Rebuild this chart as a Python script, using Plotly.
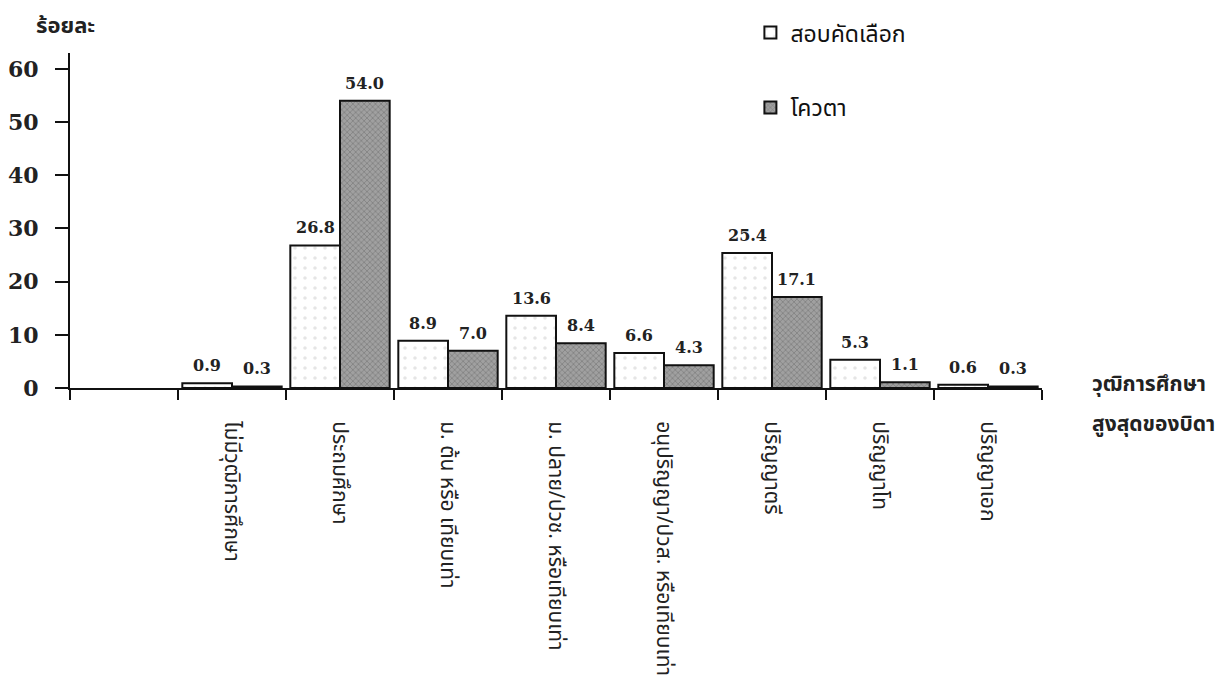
import plotly.graph_objects as go

categories = [
    "ไม่มีวุฒิการศึกษา",
    "ประถมศึกษา",
    "ม. ต้น หรือ เทียบเท่า",
    "ม. ปลาย/ปวช. หรือเทียบเท่า",
    "อนุปริญญา/ปวส. หรือเทียบเท่า",
    "ปริญญาตรี",
    "ปริญญาโท",
    "ปริญญาเอก",
]
exam_values = [0.9, 26.8, 8.9, 13.6, 6.6, 25.4, 5.3, 0.6]
quota_values = [0.3, 54.0, 7.0, 8.4, 4.3, 17.1, 1.1, 0.3]
series_names = ["สอบคัดเลือก", "โควตา"]
y_ticks = [0, 10, 20, 30, 40, 50, 60]
empty_slot = " "

thai_font = "Noto Sans Thai, Noto Sans, DejaVu Sans, sans-serif"
num_font = "DejaVu Serif, Liberation Serif, serif"

W, H = 1220, 676          # page body adds 8px offset; keep figure inside viewport
ML, MT = 62, 45
PLOT_W, PLOT_H = 972, 335
BARGAP = 0.08
n_slots = len(categories) + 1
half_bar = PLOT_W / n_slots * (1 - BARGAP) / 4

fig = go.Figure()
fig.add_trace(go.Bar(
    x=categories, y=exam_values, name=series_names[0],
    legendgroup="a",
    marker=dict(color="white", line=dict(color="#111", width=2),
                pattern=dict(shape=".", fgcolor="#cccccc", bgcolor="white", size=10, solidity=0.1)),
))
fig.add_trace(go.Bar(
    x=categories, y=quota_values, name=series_names[1],
    legendgroup="b",
    marker=dict(color="#8a8a8a", line=dict(color="#111", width=2),
                pattern=dict(shape="x", fgcolor="#5e5e5e", bgcolor="#a0a0a0", size=4, solidity=0.35)),
))

annotations = []
for vals, sign in ((exam_values, -1), (quota_values, 1)):
    for c, v in zip(categories, vals):
        annotations.append(dict(
            x=c, y=v, xref="x", yref="y", text=f"{v:.1f}", showarrow=False,
            xanchor="center", yanchor="bottom", xshift=sign * half_bar, yshift=6,
            font=dict(family=num_font, size=16, color="#222", weight="bold"),
        ))

annotations += [
    dict(text="ร้อยละ", xref="paper", yref="paper", x=-0.037, y=1.078,
         xanchor="left", yanchor="middle", showarrow=False,
         font=dict(family=thai_font, size=22, color="#222", weight="bold")),
    dict(text="วุฒิการศึกษา", xref="paper", yref="paper", x=1.049, y=0.009,
         xanchor="left", yanchor="middle", showarrow=False,
         font=dict(family=thai_font, size=21, color="#222", weight="bold")),
    dict(text="สูงสุดของบิดา", xref="paper", yref="paper", x=1.049, y=-0.11,
         xanchor="left", yanchor="middle", showarrow=False,
         font=dict(family=thai_font, size=21, color="#222", weight="bold")),
]

fig.update_layout(
    width=W, height=H,
    margin=dict(l=ML, r=W - ML - PLOT_W, t=MT, b=H - MT - PLOT_H, autoexpand=False),
    paper_bgcolor="white", plot_bgcolor="white",
    barmode="group", bargap=BARGAP, bargroupgap=0,
    legend=dict(x=0.70, y=1.125, xanchor="left", yanchor="top",
                font=dict(family=thai_font, size=23, color="#111"),
                tracegroupgap=42, bgcolor="rgba(0,0,0,0)"),
    xaxis=dict(
        type="category", categoryorder="array",
        categoryarray=[empty_slot] + categories,
        range=[-0.5, 8.5], tickson="boundaries",
        showline=True, linecolor="#111", linewidth=2,
        ticks="outside", ticklen=10, tickwidth=2, tickcolor="#111",
        tickangle=90, ticklabelstandoff=27,
        tickfont=dict(family=thai_font, size=21, color="#222"),
        showgrid=False, zeroline=False, automargin=False,
    ),
    yaxis=dict(
        range=[0, 63], tickvals=y_ticks,
        showline=True, linecolor="#111", linewidth=2,
        ticks="outside", ticklen=13, tickwidth=2, tickcolor="#111",
        tickfont=dict(family=num_font, size=22, color="#222", weight="bold"),
        showgrid=False, zeroline=False, ticklabelstandoff=12, automargin=False,
    ),
    annotations=annotations,
)

fig.write_html("out.html")
